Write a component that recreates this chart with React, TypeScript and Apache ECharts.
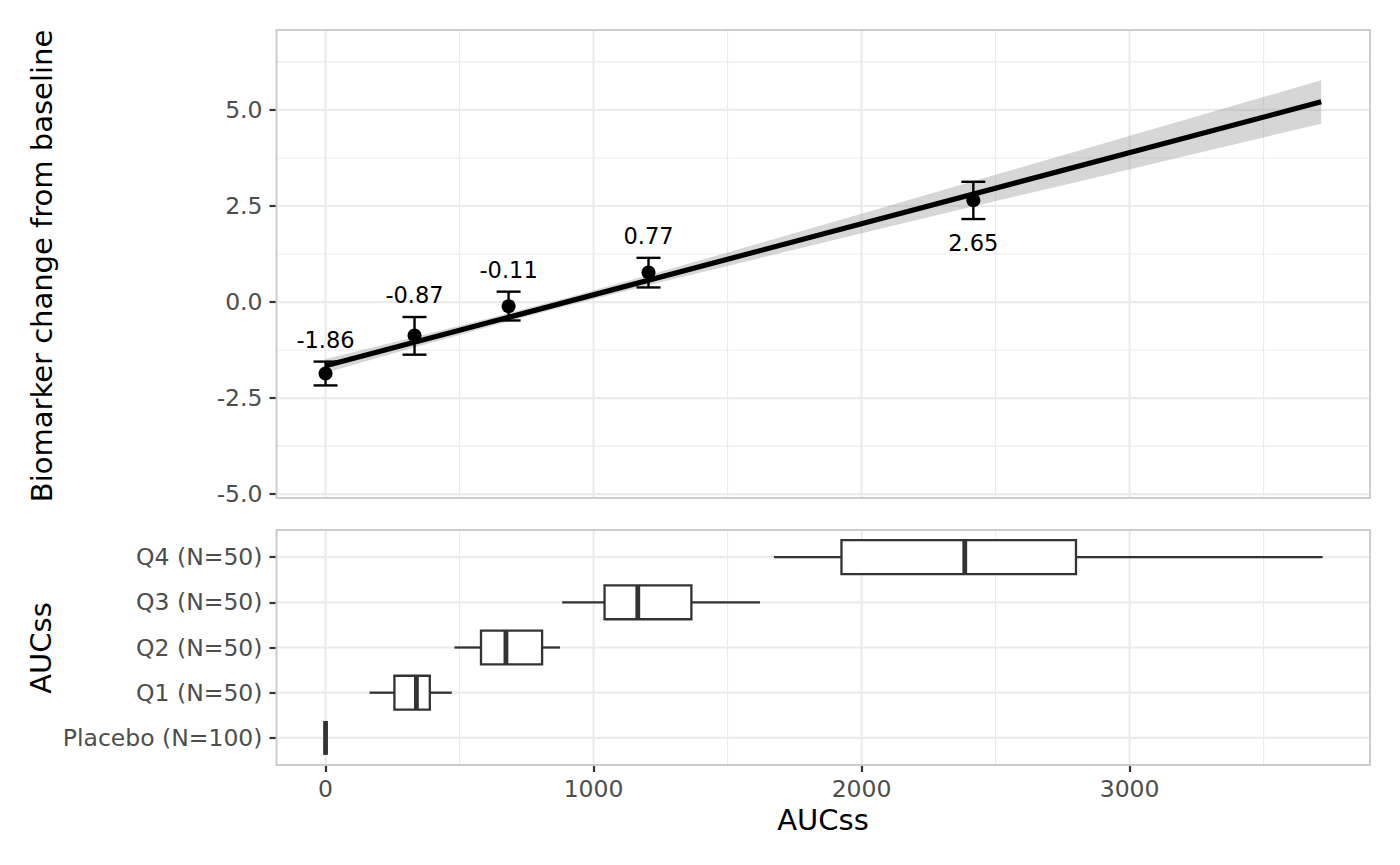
import React, { useEffect, useRef } from "react";
import * as echarts from "echarts";

const FONT = "'DejaVu Sans', 'Noto Sans', sans-serif";

// ---- Bottom panel: AUCss distribution per exposure group ----
const groupNames = ["Placebo (N=100)", "Q1 (N=50)", "Q2 (N=50)", "Q3 (N=50)", "Q4 (N=50)"];
const boxLo = [0, 164, 481, 883, 1673];
const boxQ1 = [0, 257, 580, 1041, 1925];
const boxMed = [0, 339, 673, 1165, 2385];
const boxQ3 = [0, 389, 808, 1365, 2800];
const boxHi = [0, 471, 875, 1621, 3720];

// ---- Top panel: mean biomarker change per group ----
const pointX = [0, 332, 683, 1205, 2417];
const pointY = [-1.86, -0.87, -0.11, 0.77, 2.65];
const errLo = [-2.17, -1.37, -0.48, 0.38, 2.16];
const errHi = [-1.55, -0.39, 0.27, 1.15, 3.13];
const pointLabels = ["-1.86", "-0.87", "-0.11", "0.77", "2.65"];
const labelBelow = [false, false, false, false, true];

// ---- Linear fit and its confidence band ----
const fitX = [0, 3715];
const fitY = [-1.66, 5.21];
const bandX = [0, 300, 600, 900, 1200, 1600, 2000, 2400, 2800, 3200, 3715];
const bandLo = [-1.84, -1.24, -0.66, -0.1, 0.43, 1.11, 1.79, 2.46, 3.12, 3.79, 4.64];
const bandHi = [-1.48, -0.97, -0.44, 0.11, 0.69, 1.49, 2.3, 3.11, 3.92, 4.73, 5.77];

// ---- Axes ----
const xMin = -183;
const xMax = 3897;
const yTopMin = -5.1;
const yTopMax = 7.08;
const yBotMin = -0.6;
const yBotMax = 4.6;
const xTicks = [0, 1000, 2000, 3000];
const xMinor = [500, 1500, 2500, 3500];
const yTicks = [-5, -2.5, 0, 2.5, 5];
const yMinor = [-3.75, -1.25, 1.25, 3.75, 6.25];
const catTicks = [0, 1, 2, 3, 4];

const TICK_COLOR = "#333333";
const LABEL_COLOR = "#4D4D4D";
const GRID_COLOR = "#EBEBEB";
const BORDER_COLOR = "#CCCCCC";

function gridLineSeries(xi: number, yi: number, vMaj: number[], vMin: number[], hMaj: number[], hMin: number[]) {
  const data = [
    ...vMaj.map((v) => [0, v, 1]),
    ...vMin.map((v) => [0, v, 0]),
    ...hMaj.map((v) => [1, v, 1]),
    ...hMin.map((v) => [1, v, 0]),
  ];
  return {
    type: "custom",
    xAxisIndex: xi,
    yAxisIndex: yi,
    z: 1,
    silent: true,
    clip: true,
    data,
    encode: { x: -1, y: -1 },
    renderItem: (params: any, api: any) => {
      const kind = api.value(0);
      const v = api.value(1);
      const major = api.value(2);
      const cs = params.coordSys;
      const style = { stroke: GRID_COLOR, lineWidth: major ? 2.2 : 1.1 };
      if (kind === 0) {
        const px = api.coord([v, 0])[0];
        return { type: "line", shape: { x1: px, y1: cs.y, x2: px, y2: cs.y + cs.height }, style };
      }
      const py = api.coord([0, v])[1];
      return { type: "line", shape: { x1: cs.x, y1: py, x2: cs.x + cs.width, y2: py }, style };
    },
  };
}

const tickLabelStyle = {
  fontSize: 23.5,
  color: LABEL_COLOR,
  fontFamily: FONT,
};

const tickStyle = { color: TICK_COLOR, width: 2.2 };

export default function App() {
  const ref = useRef<HTMLDivElement>(null);

  useEffect(() => {
    if (!ref.current) return;
    const chart = echarts.init(ref.current, null, { renderer: "svg" });

    const titleStyle = {
      fontSize: 29, fontFamily: FONT, fill: "#000000",
      align: "center", verticalAlign: "middle", textAlign: "center", textVerticalAlign: "middle",
    };

    const option: any = {
      animation: false,
      backgroundColor: "#FFFFFF",
      grid: [
        { left: 276.5, top: 30, width: 1093.5, height: 468, show: true, borderColor: BORDER_COLOR, borderWidth: 2, backgroundColor: "transparent", z: 20 },
        { left: 276.5, top: 530, width: 1093.5, height: 235, show: true, borderColor: BORDER_COLOR, borderWidth: 2, backgroundColor: "transparent", z: 20 },
      ],
      xAxis: [
        {
          gridIndex: 0, type: "value", min: xMin, max: xMax, position: "bottom",
          axisLine: { show: false, onZero: false }, axisTick: { show: false }, axisLabel: { show: false }, splitLine: { show: false },
        },
        {
          gridIndex: 1, type: "value", min: xMin, max: xMax, position: "bottom",
          axisLine: { show: false, onZero: false },
          axisTick: { show: true, customValues: xTicks, length: 7, lineStyle: tickStyle },
          axisLabel: { show: true, customValues: xTicks, margin: 12, formatter: (v: number) => String(v), ...tickLabelStyle },
          splitLine: { show: false },
        },
      ],
      yAxis: [
        {
          gridIndex: 0, type: "value", min: yTopMin, max: yTopMax, position: "left",
          axisLine: { show: false, onZero: false },
          axisTick: { show: true, customValues: yTicks, length: 7, lineStyle: tickStyle },
          axisLabel: { show: true, customValues: yTicks, margin: 14, formatter: (v: number) => v.toFixed(1), ...tickLabelStyle },
          splitLine: { show: false },
        },
        {
          gridIndex: 1, type: "value", min: yBotMin, max: yBotMax, position: "left",
          axisLine: { show: false, onZero: false },
          axisTick: { show: true, customValues: catTicks, length: 7, lineStyle: tickStyle },
          axisLabel: { show: true, customValues: catTicks, margin: 14, formatter: (v: number) => groupNames[Math.round(v)] ?? "", ...tickLabelStyle },
          splitLine: { show: false },
        },
      ],
      graphic: [
        { type: "text", x: 42, y: 266, rotation: Math.PI / 2, style: { text: "Biomarker change from baseline", ...titleStyle } },
        { type: "text", x: 41, y: 648, rotation: Math.PI / 2, style: { text: "AUCss", ...titleStyle } },
        { type: "text", x: 823, y: 820, style: { text: "AUCss", ...titleStyle } },
      ],
      series: [
        gridLineSeries(0, 0, xTicks, xMinor, yTicks, yMinor),
        gridLineSeries(1, 1, xTicks, xMinor, catTicks, []),
        // confidence band
        {
          type: "custom", xAxisIndex: 0, yAxisIndex: 0, z: 2, silent: true, clip: true,
          data: bandX.map((x, i) => [x, bandLo[i], bandHi[i]]),
          encode: { x: 0, y: [1, 2] },
          renderItem: (params: any, api: any) => {
            if (params.dataIndex !== 0) return null;
            const upper = bandX.map((x, i) => api.coord([x, bandHi[i]]));
            const lower = bandX.map((x, i) => api.coord([x, bandLo[i]])).reverse();
            return { type: "polygon", shape: { points: upper.concat(lower) }, style: { fill: "rgba(153,153,153,0.4)" } };
          },
        },
        // fitted line
        {
          type: "line", xAxisIndex: 0, yAxisIndex: 0, z: 3, silent: true,
          data: fitX.map((x, i) => [x, fitY[i]]),
          showSymbol: false, symbol: "none",
          lineStyle: { color: "#000000", width: 5.2 },
        },
        // error bars and value labels
        {
          type: "custom", xAxisIndex: 0, yAxisIndex: 0, z: 4, silent: true, clip: false,
          data: pointX.map((x, i) => [x, errLo[i], errHi[i]]),
          encode: { x: 0, y: [1, 2] },
          renderItem: (params: any, api: any) => {
            const i = params.dataIndex;
            const x = api.value(0);
            const top = api.coord([x, api.value(2)]);
            const bot = api.coord([x, api.value(1)]);
            const cap = 12;
            const ls = { stroke: "#000000", lineWidth: 2.4 };
            const ty = labelBelow[i] ? bot[1] + 24 : top[1] - 22;
            return {
              type: "group",
              children: [
                { type: "line", shape: { x1: top[0], y1: top[1], x2: bot[0], y2: bot[1] }, style: ls },
                { type: "line", shape: { x1: top[0] - cap, y1: top[1], x2: top[0] + cap, y2: top[1] }, style: ls },
                { type: "line", shape: { x1: bot[0] - cap, y1: bot[1], x2: bot[0] + cap, y2: bot[1] }, style: ls },
                {
                  type: "text", x: top[0], y: ty,
                  style: { text: pointLabels[i], fontSize: 22.5, fontFamily: FONT, fill: "#000000", align: "center", verticalAlign: "middle", textAlign: "center", textVerticalAlign: "middle" },
                },
              ],
            };
          },
        },
        // mean points
        {
          type: "scatter", xAxisIndex: 0, yAxisIndex: 0, z: 5, silent: true,
          data: pointX.map((x, i) => [x, pointY[i]]),
          symbol: "circle", symbolSize: 14,
          itemStyle: { color: "#000000", opacity: 1 },
        },
        // box plots
        {
          type: "custom", xAxisIndex: 1, yAxisIndex: 1, z: 3, silent: true, clip: true,
          data: groupNames.map((_, i) => [boxMed[i], i, boxLo[i], boxQ1[i], boxQ3[i], boxHi[i]]),
          encode: { x: [0, 2, 3, 4, 5], y: 1 },
          renderItem: (params: any, api: any) => {
            const c = api.value(1);
            const pLo = api.coord([api.value(2), c]);
            const pQ1 = api.coord([api.value(3), c]);
            const pMed = api.coord([api.value(0), c]);
            const pQ3 = api.coord([api.value(4), c]);
            const pHi = api.coord([api.value(5), c]);
            const half = api.size([0, 0.375])[1];
            const ls = { stroke: "#333333", lineWidth: 2.3 };
            return {
              type: "group",
              children: [
                { type: "line", shape: { x1: pLo[0], y1: pLo[1], x2: pQ1[0], y2: pQ1[1] }, style: ls },
                { type: "line", shape: { x1: pQ3[0], y1: pQ3[1], x2: pHi[0], y2: pHi[1] }, style: ls },
                { type: "rect", shape: { x: pQ1[0], y: pQ1[1] - half, width: pQ3[0] - pQ1[0], height: 2 * half }, style: { fill: "#FFFFFF", stroke: "#333333", lineWidth: 2.3 } },
                { type: "line", shape: { x1: pMed[0], y1: pMed[1] - half, x2: pMed[0], y2: pMed[1] + half }, style: { stroke: "#333333", lineWidth: 4.8 } },
              ],
            };
          },
        },
      ],
    };

    chart.setOption(option);
    return () => chart.dispose();
  }, []);

  return (
    <div
      ref={ref}
      style={{ position: "fixed", left: 0, top: 0, width: 1400, height: 865, background: "#FFFFFF" }}
    />
  );
}
